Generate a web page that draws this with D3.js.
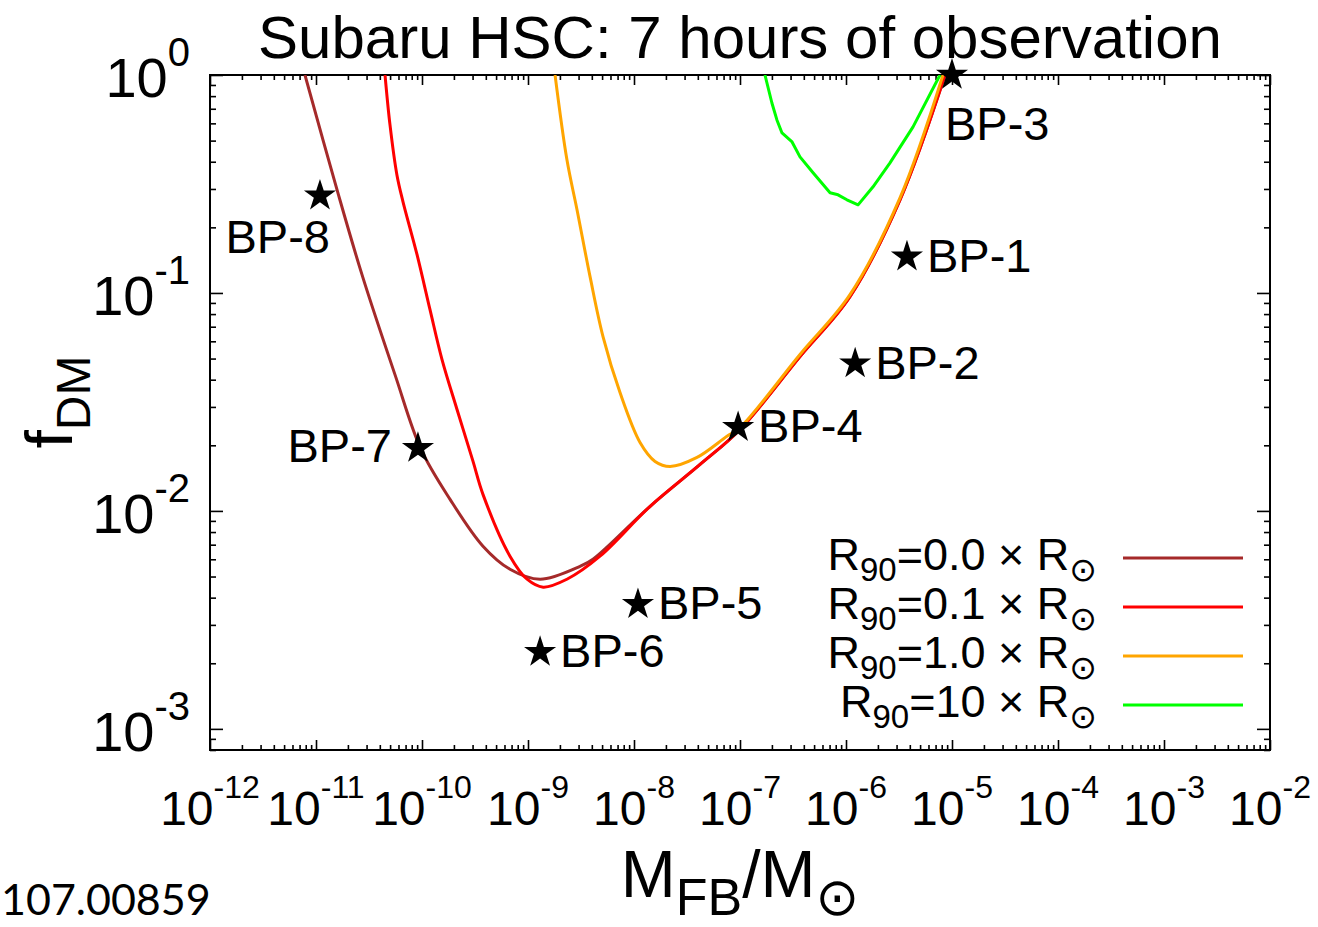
<!DOCTYPE html>
<html>
<head>
<meta charset="utf-8">
<script src="https://cdn.jsdelivr.net/npm/d3@7"></script>
<style>
  body { margin: 0; background: #fff; }
  svg text { font-family: "Liberation Sans", Arial, Helvetica, sans-serif; fill: #000; }
</style>
</head>
<body>
<div id="chart"></div>
<script>
// exclusion curves (mass in solar masses, f_DM)
const massR00 = [7.87e-12, 1.58e-11, 2.72e-11, 5.56e-11, 9.8e-11, 1.84e-10, 3.76e-10, 6.76e-10, 1.3e-9, 3.1e-9, 4.1e-9, 1.42e-8, 4.2e-8, 1.0e-7, 3.68e-7, 1.09e-6, 3.23e-6, 8.6e-6]
const fR00    = [1.0, 0.297, 0.121, 0.0422, 0.01915, 0.0113, 0.00689, 0.0054, 0.00486, 0.00557, 0.006, 0.0105, 0.01634, 0.02365, 0.0511, 0.0962, 0.2676, 1.0]

const massR01 = [4.48e-11, 4.99e-11, 5.8e-11, 6.62e-11, 8.98e-11, 1.19e-10, 1.545e-10, 2.14e-10, 3.03e-10, 3.76e-10, 6.76e-10, 9.8e-10, 1.39e-9, 2.33e-9, 4.78e-9, 1.42e-8, 4.2e-8, 1.0e-7, 3.68e-7, 1.09e-6, 3.23e-6, 8.6e-6]
const fR01    = [1.0, 0.59, 0.348, 0.262, 0.1498, 0.0838, 0.04948, 0.0292, 0.01687, 0.01191, 0.0062, 0.00486, 0.00447, 0.00486, 0.0062, 0.0105, 0.01634, 0.02365, 0.0511, 0.0962, 0.2676, 1.0]

const massR1 = [1.8e-9, 2.33e-9, 2.9e-9, 3.85e-9, 5.1e-9, 7.38e-9, 1.14e-8, 1.58e-8, 2.19e-8, 3.93e-8, 7.53e-8, 1.0e-7, 3.68e-7, 1.09e-6, 3.23e-6, 8.22e-6]
const fR1    = [1.0, 0.408, 0.241, 0.1188, 0.0631, 0.0349, 0.0206, 0.01687, 0.016, 0.0176, 0.022, 0.0241, 0.0522, 0.0982, 0.273, 1.0]

const massR10 = [1.72e-7, 2.0e-7, 2.23e-7, 2.49e-7, 3.1e-7, 3.68e-7, 4.89e-7, 7.07e-7, 8.41e-7, 1.02e-6, 1.3e-6, 1.8e-6, 2.6e-6, 4.29e-6, 7.7e-6]
const fR10    = [1.0, 0.744, 0.622, 0.542, 0.493, 0.421, 0.356, 0.288, 0.282, 0.2676, 0.2537, 0.307, 0.395, 0.578, 1.0]

const seriesRadius = ['0.0', '0.1', '1.0', '10']
const seriesColor = ['#a52a2a', '#ff0000', '#ffa500', '#00ff00']

// benchmark points
const bpNames = ['BP-1', 'BP-2', 'BP-3', 'BP-4', 'BP-5', 'BP-6', 'BP-7', 'BP-8']
const bpMass  = [3.76e-6, 1.22e-6, 1.0e-5, 9.6e-8, 1.09e-8, 1.3e-9, 9.16e-11, 1.09e-11]
const bpF     = [0.1466, 0.0474, 1.0, 0.0242, 0.00373, 0.00225, 0.0194, 0.279]
const bpSide  = ['right', 'right', 'below', 'right', 'right', 'right', 'left', 'belowleft']

// tick labels (powers of ten)
const xTickExp = [-12, -11, -10, -9, -8, -7, -6, -5, -4, -3, -2]
const yTickExp = [0, -1, -2, -3]

const width = 1318
const height = 927
const plot = {left: 210, right: 1270, top: 75, bottom: 750}

const x = d3.scaleLog().domain([1e-12, 1e-2]).range([plot.left, plot.right])
const y = d3.scaleLog().domain([8e-4, 1]).range([plot.bottom, plot.top])

const svg = d3.select('#chart').append('svg')
  .attr('width', width)
  .attr('height', height)

svg.append('rect').attr('width', width).attr('height', height).attr('fill', '#fff')

// minor ticks
const xMinor = []
xTickExp.slice(0, -1).forEach(e => { for (let m = 2; m <= 9; m++) xMinor.push(m * Math.pow(10, e)) })
const yMinor = [8e-4, 9e-4]
yTickExp.slice(1).forEach(e => { for (let m = 2; m <= 9; m++) yMinor.push(m * Math.pow(10, e)) })
const xMajor = xTickExp.map(e => Math.pow(10, e))
const yMajor = yTickExp.map(e => Math.pow(10, e))

function drawAxis(axis, tx, ty) {
  const g = svg.append('g').attr('transform', `translate(${tx},${ty})`).call(axis)
  g.select('.domain').remove()
  g.selectAll('line').attr('stroke', '#000').attr('stroke-width', 1.6)
}
drawAxis(d3.axisBottom(x).tickValues(xMajor).tickSize(-10).tickFormat(''), 0, plot.bottom)
drawAxis(d3.axisBottom(x).tickValues(xMinor).tickSize(-5).tickFormat(''), 0, plot.bottom)
drawAxis(d3.axisTop(x).tickValues(xMajor).tickSize(-10).tickFormat(''), 0, plot.top)
drawAxis(d3.axisTop(x).tickValues(xMinor).tickSize(-5).tickFormat(''), 0, plot.top)
drawAxis(d3.axisLeft(y).tickValues(yMajor).tickSize(-13).tickFormat(''), plot.left, 0)
drawAxis(d3.axisLeft(y).tickValues(yMinor).tickSize(-6).tickFormat(''), plot.left, 0)
drawAxis(d3.axisRight(y).tickValues(yMajor).tickSize(-13).tickFormat(''), plot.right, 0)
drawAxis(d3.axisRight(y).tickValues(yMinor).tickSize(-6).tickFormat(''), plot.right, 0)

// frame
svg.append('rect')
  .attr('x', plot.left).attr('y', plot.top)
  .attr('width', plot.right - plot.left).attr('height', plot.bottom - plot.top)
  .attr('fill', 'none').attr('stroke', '#000').attr('stroke-width', 2)

// tick labels
const xl = svg.append('g').selectAll('text').data(xTickExp).join('text')
  .attr('x', d => x(Math.pow(10, d)))
  .attr('y', 825)
  .attr('text-anchor', 'middle')
  .attr('font-size', 48)
xl.append('tspan').text('10')
xl.append('tspan').attr('font-size', 32).attr('dy', -27).text(d => String(d))

const yl = svg.append('g').selectAll('text').data(yTickExp).join('text')
  .attr('x', 190)
  .attr('y', d => y(Math.pow(10, d)) + 22)
  .attr('text-anchor', 'end')
  .attr('font-size', 56)
yl.append('tspan').text('10')
yl.append('tspan').attr('font-size', 40).attr('dy', -31).text(d => String(d))

// curves
svg.append('clipPath').attr('id', 'clip')
  .append('rect')
  .attr('x', plot.left).attr('y', plot.top)
  .attr('width', plot.right - plot.left).attr('height', plot.bottom - plot.top)

const series = [
  {mass: massR00, f: fR00, smooth: true},
  {mass: massR01, f: fR01, smooth: true},
  {mass: massR1, f: fR1, smooth: true},
  {mass: massR10, f: fR10, smooth: false}
]

series.forEach((s, i) => {
  const pts = s.mass.map((m, j) => [m, s.f[j]])
  const line = d3.line()
    .x(d => x(d[0]))
    .y(d => y(d[1]))
    .curve(s.smooth ? d3.curveCatmullRom.alpha(0.5) : d3.curveLinear)
  svg.append('path')
    .attr('clip-path', 'url(#clip)')
    .attr('d', line(pts))
    .attr('fill', 'none')
    .attr('stroke', seriesColor[i])
    .attr('stroke-width', 3)
    .attr('stroke-linejoin', 'round')
})

// benchmark stars + labels
const star = d3.symbol(d3.symbolStar, 320)
bpNames.forEach((name, i) => {
  const sx = x(bpMass[i]), sy = y(bpF[i])
  svg.append('path')
    .attr('d', star())
    .attr('transform', `translate(${sx},${sy})`)
    .attr('fill', '#000')
  const t = svg.append('text').attr('font-size', 47).text(name)
  if (bpSide[i] === 'right') t.attr('x', sx + 20).attr('y', sy + 15)
  else if (bpSide[i] === 'left') t.attr('x', sx - 26).attr('y', sy + 14).attr('text-anchor', 'end')
  else if (bpSide[i] === 'below') t.attr('x', sx - 7).attr('y', sy + 65)
  else t.attr('x', sx + 10).attr('y', sy + 57).attr('text-anchor', 'end')
})

// legend
seriesRadius.forEach((r, i) => {
  const ly = 558 + i * 49
  const t = svg.append('text')
    .attr('x', 1097).attr('y', ly + 12)
    .attr('text-anchor', 'end')
    .attr('font-size', 45)
  t.append('tspan').text('R')
  t.append('tspan').attr('font-size', 33).attr('dy', 11).text('90')
  t.append('tspan').attr('dy', -11).text(`=${r} \u00d7 R`)
  t.append('tspan').attr('font-size', 33).attr('dy', 11)
    .style('font-family', '"DejaVu Sans", sans-serif').text('\u2299')
  svg.append('line')
    .attr('x1', 1123).attr('x2', 1243)
    .attr('y1', ly).attr('y2', ly)
    .attr('stroke', seriesColor[i])
    .attr('stroke-width', 3)
})

// title
svg.append('text')
  .attr('x', 740).attr('y', 58)
  .attr('text-anchor', 'middle')
  .attr('font-size', 60)
  .text('Subaru HSC: 7 hours of observation')

// x axis label
const xt = svg.append('text')
  .attr('x', 740).attr('y', 897)
  .attr('text-anchor', 'middle')
  .attr('font-size', 66)
xt.append('tspan').text('M')
xt.append('tspan').attr('font-size', 52).attr('dy', 18).text('FB')
xt.append('tspan').attr('dy', -18).text('/M')
xt.append('tspan').attr('font-size', 52).attr('dy', 18)
  .style('font-family', '"DejaVu Sans", sans-serif').text('\u2299')

// y axis label
const yt = svg.append('text')
  .attr('transform', 'translate(72,402) rotate(-90)')
  .attr('text-anchor', 'middle')
  .attr('font-size', 66)
yt.append('tspan').text('f')
yt.append('tspan').attr('font-size', 48).attr('dy', 18).text('DM')

// arXiv id, as much as is visible
svg.append('text')
  .attr('x', 1).attr('y', 915)
  .attr('font-size', 43)
  .style('font-family', 'Lato, "Open Sans", sans-serif')
  .text('107.00859')
</script>
</body>
</html>
